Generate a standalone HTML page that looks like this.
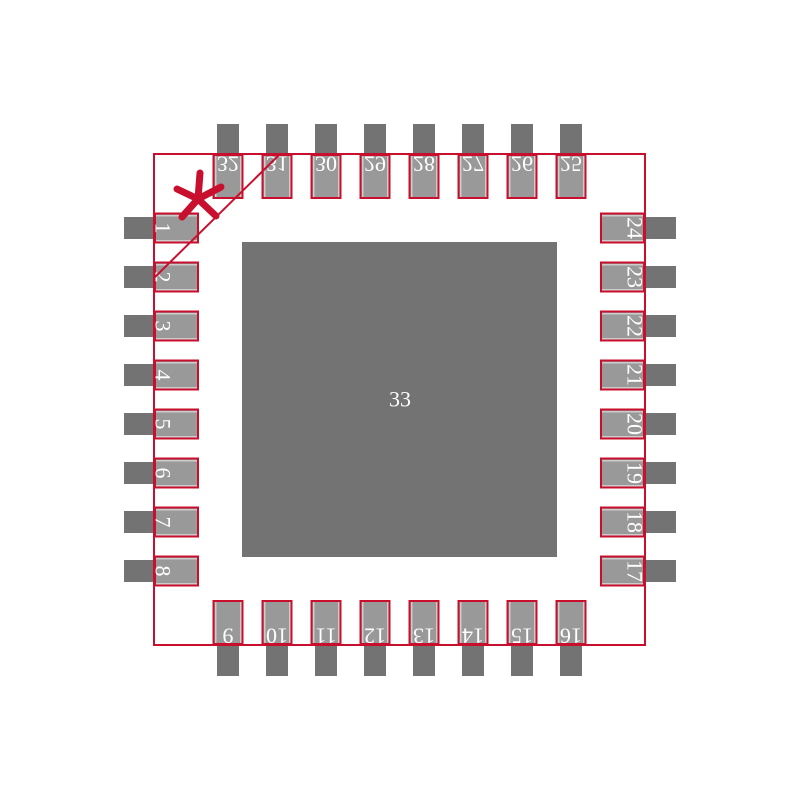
<!DOCTYPE html>
<html><head><style>html,body{margin:0;padding:0;background:#fff}svg{display:block}</style></head><body>
<svg width="800" height="800" viewBox="0 0 800 800" xmlns="http://www.w3.org/2000/svg" xmlns:xlink="http://www.w3.org/1999/xlink">
<defs>
<g id="L"><rect x="124" y="-11" width="30" height="22" fill="#737373"/><rect x="155" y="-14" width="43" height="29" fill="#999"/><rect x="155" y="-13" width="43" height="1.5" fill="#ccc"/><rect x="155" y="12" width="43" height="1.5" fill="#ccc"/><rect x="155" y="-14.5" width="43" height="29" fill="none" stroke="#c8102e" stroke-width="2"/></g>
<g id="R"><rect x="645" y="-11" width="31" height="22" fill="#737373"/><rect x="601" y="-14" width="43" height="29" fill="#999"/><rect x="601" y="-13" width="43" height="1.5" fill="#ccc"/><rect x="601" y="12" width="43" height="1.5" fill="#ccc"/><rect x="601" y="-14.5" width="43" height="29" fill="none" stroke="#c8102e" stroke-width="2"/></g>
<g id="T"><rect x="-11" y="124" width="22" height="30" fill="#737373"/><rect x="-14" y="155" width="29" height="43" fill="#999"/><rect x="-13" y="155" width="1.5" height="43" fill="#ccc"/><rect x="12" y="155" width="1.5" height="43" fill="#ccc"/><rect x="-14.5" y="155" width="29" height="43" fill="none" stroke="#c8102e" stroke-width="2"/></g>
<g id="B"><rect x="-11" y="645" width="22" height="31" fill="#737373"/><rect x="-14" y="601" width="29" height="43" fill="#999"/><rect x="-13" y="601" width="1.5" height="43" fill="#ccc"/><rect x="12" y="601" width="1.5" height="43" fill="#ccc"/><rect x="-14.5" y="601" width="29" height="43" fill="none" stroke="#c8102e" stroke-width="2"/></g>
</defs>
<rect width="800" height="800" fill="#fff"/>
<rect x="242" y="242" width="315" height="315" fill="#737373"/>
<use xlink:href="#L" x="0" y="228"/><use xlink:href="#L" x="0" y="277"/><use xlink:href="#L" x="0" y="326"/><use xlink:href="#L" x="0" y="375"/><use xlink:href="#L" x="0" y="424"/><use xlink:href="#L" x="0" y="473"/><use xlink:href="#L" x="0" y="522"/><use xlink:href="#L" x="0" y="571"/>
<use xlink:href="#R" x="0" y="228"/><use xlink:href="#R" x="0" y="277"/><use xlink:href="#R" x="0" y="326"/><use xlink:href="#R" x="0" y="375"/><use xlink:href="#R" x="0" y="424"/><use xlink:href="#R" x="0" y="473"/><use xlink:href="#R" x="0" y="522"/><use xlink:href="#R" x="0" y="571"/>
<use xlink:href="#T" x="228" y="0"/><use xlink:href="#T" x="277" y="0"/><use xlink:href="#T" x="326" y="0"/><use xlink:href="#T" x="375" y="0"/><use xlink:href="#T" x="424" y="0"/><use xlink:href="#T" x="473" y="0"/><use xlink:href="#T" x="522" y="0"/><use xlink:href="#T" x="571" y="0"/>
<use xlink:href="#B" x="228" y="0"/><use xlink:href="#B" x="277" y="0"/><use xlink:href="#B" x="326" y="0"/><use xlink:href="#B" x="375" y="0"/><use xlink:href="#B" x="424" y="0"/><use xlink:href="#B" x="473" y="0"/><use xlink:href="#B" x="522" y="0"/><use xlink:href="#B" x="571" y="0"/>
<g fill="#fff" font-family="Liberation Serif, serif" font-size="22" text-anchor="middle" dominant-baseline="central">
<text transform="translate(400,399)">33</text>
<text transform="translate(163,228) rotate(90)">1</text>
<text transform="translate(163,277) rotate(90)">2</text>
<text transform="translate(163,326) rotate(90)">3</text>
<text transform="translate(163,375) rotate(90)">4</text>
<text transform="translate(163,424) rotate(90)">5</text>
<text transform="translate(163,473) rotate(90)">6</text>
<text transform="translate(163,522) rotate(90)">7</text>
<text transform="translate(163,571) rotate(90)">8</text>
<text transform="translate(635,228) rotate(90)">24</text>
<text transform="translate(635,277) rotate(90)">23</text>
<text transform="translate(635,326) rotate(90)">22</text>
<text transform="translate(635,375) rotate(90)">21</text>
<text transform="translate(635,424) rotate(90)">20</text>
<text transform="translate(635,473) rotate(90)">19</text>
<text transform="translate(635,522) rotate(90)">18</text>
<text transform="translate(635,571) rotate(90)">17</text>
<text transform="translate(228,164) scale(1,-1)">32</text>
<text transform="translate(277,164) scale(1,-1)">31</text>
<text transform="translate(326,164) scale(1,-1)">30</text>
<text transform="translate(375,164) scale(1,-1)">29</text>
<text transform="translate(424,164) scale(1,-1)">28</text>
<text transform="translate(473,164) scale(1,-1)">27</text>
<text transform="translate(522,164) scale(1,-1)">26</text>
<text transform="translate(571,164) scale(1,-1)">25</text>
<text transform="translate(228,636) rotate(180)">9</text>
<text transform="translate(277,636) rotate(180)">10</text>
<text transform="translate(326,636) rotate(180)">11</text>
<text transform="translate(375,636) rotate(180)">12</text>
<text transform="translate(424,636) rotate(180)">13</text>
<text transform="translate(473,636) rotate(180)">14</text>
<text transform="translate(522,636) rotate(180)">15</text>
<text transform="translate(571,636) rotate(180)">16</text>
</g>
<rect x="154" y="154" width="491" height="491" fill="none" stroke="#c8102e" stroke-width="2"/>
<line x1="154" y1="278" x2="280" y2="154" stroke="#c8102e" stroke-width="2"/>
<g stroke="#c8102e" stroke-width="7" stroke-linecap="round"><line x1="198" y1="199" x2="200" y2="173"/><line x1="198" y1="199" x2="177" y2="189"/><line x1="198" y1="199" x2="221" y2="187"/><line x1="198" y1="199" x2="182" y2="217"/><line x1="198" y1="199" x2="216" y2="216"/></g>
</svg>
</body></html>
